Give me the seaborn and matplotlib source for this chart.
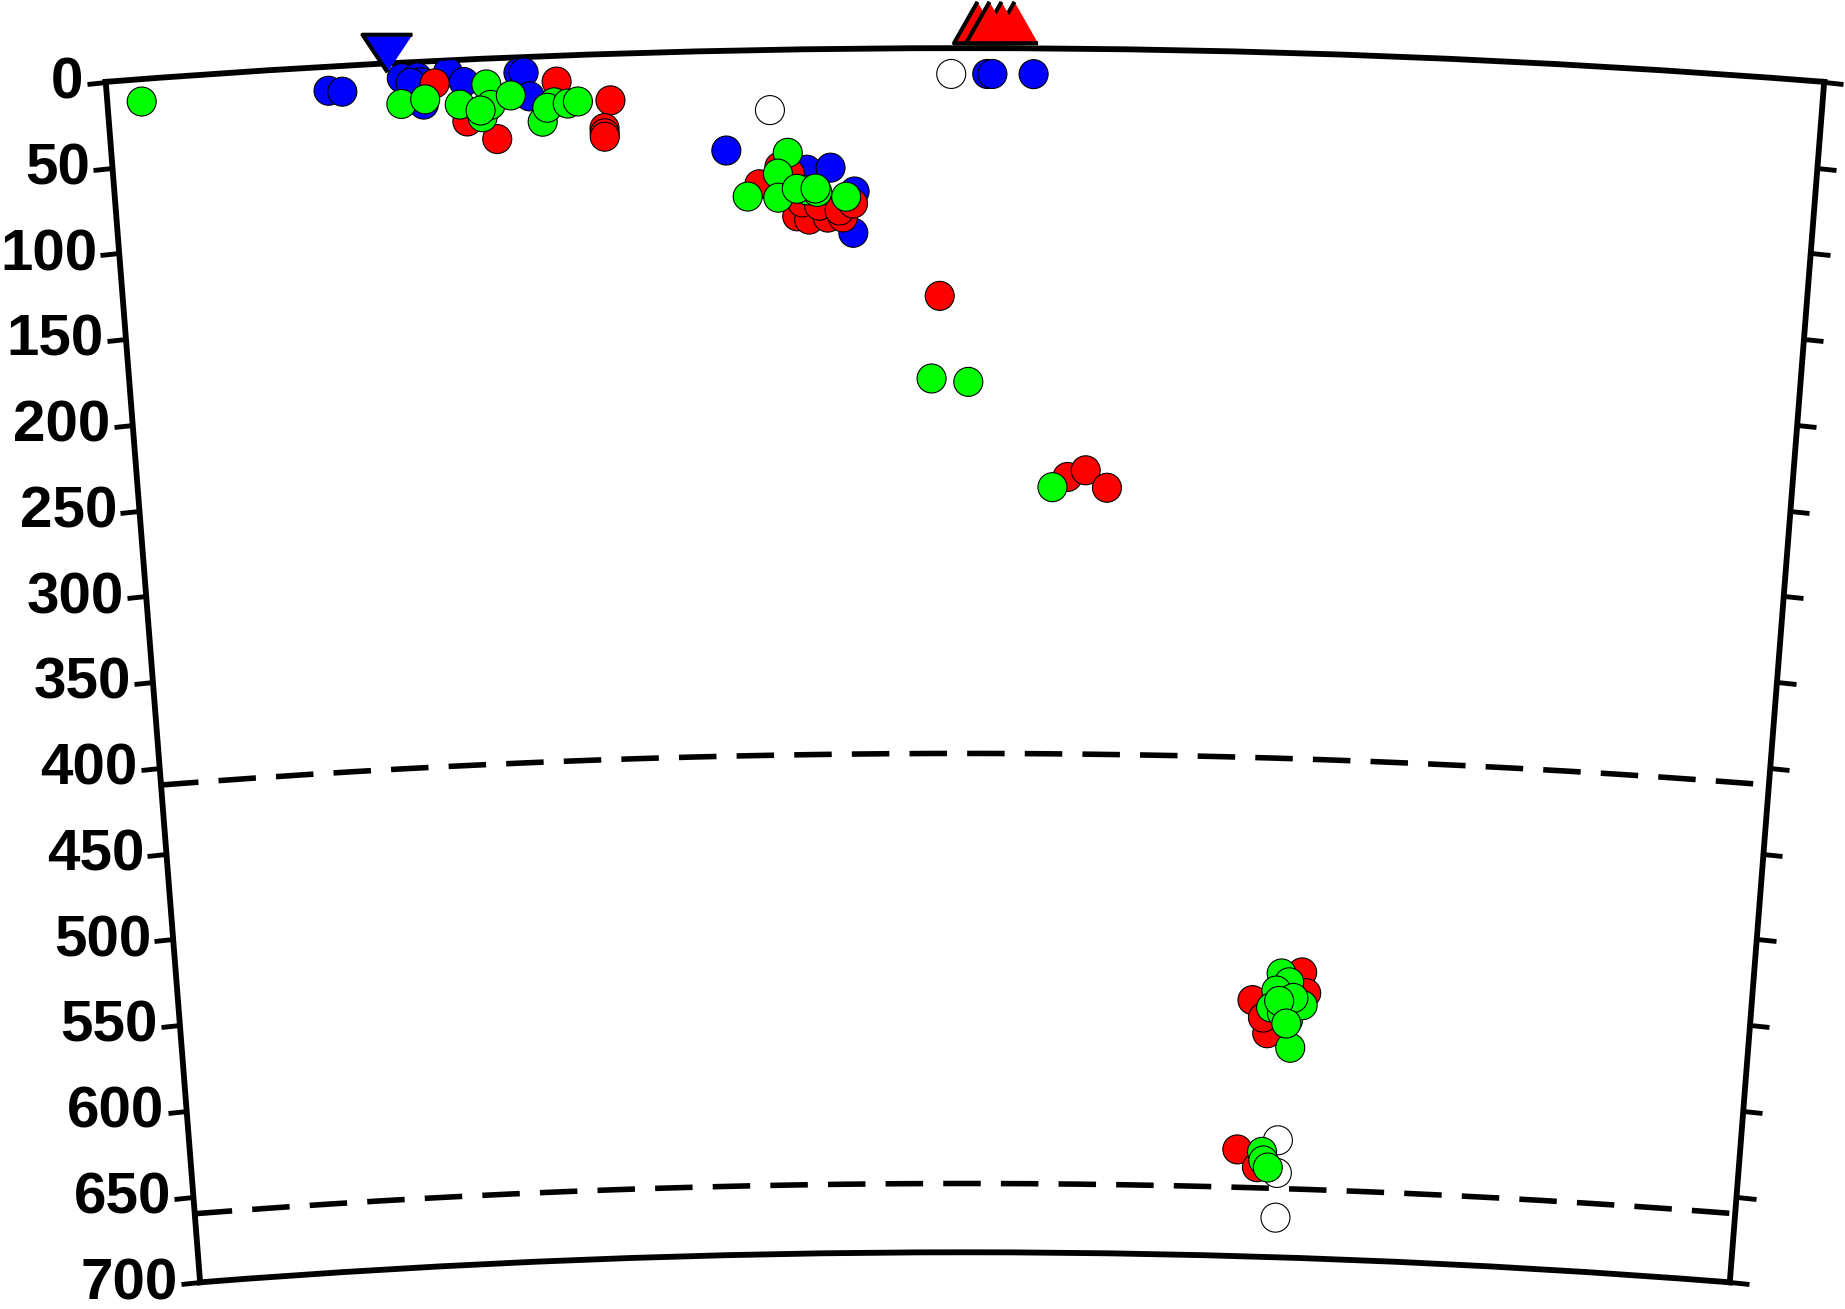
import numpy as np
import pandas as pd
import matplotlib
matplotlib.use("Agg")
from matplotlib import pyplot as plt
import seaborn as sns

R_EARTH = 6371.0
PROFILE_LEN = 1000.0      # km along the surface, left edge to right edge
MAX_DEPTH = 700

# hypocentres: distance along profile (km) and depth (km)
white_dist = [492, 386, 702, 702, 702]
white_depth = [15, 35, 632, 651, 677]

blue_dist = [129, 137, 172, 181, 183, 177, 199, 208, 240, 243, 246, 184,
             513, 516, 540, 360, 407, 421, 435, 434]
blue_depth = [14, 15, 9, 9, 12, 12, 7, 13, 9, 9, 23, 25,
              15, 15, 15, 58, 70, 69, 83, 107]

red_dist = [191, 262, 293, 209, 226, 289, 289, 289,
            379, 391, 397, 401, 408, 419, 428, 404, 414, 426, 434,
            485, 562, 573, 586, 714, 683, 693, 690, 717, 676, 689]
red_depth = [13, 15, 27, 36, 47, 43, 46, 48,
             78, 68, 72, 97, 99, 98, 98, 89, 91, 94, 90,
             144, 249, 245, 255, 534, 551, 570, 561, 546, 638, 648]

green_dist = [20, 171, 185, 221, 205, 218, 223, 235, 253, 260, 256, 268, 274, 217,
              396, 390, 372, 390, 407, 413, 430, 401, 412,
              480, 502, 553, 701, 706, 698, 695, 706, 715, 702, 709, 708, 700, 705,
              692, 693, 696]
green_depth = [13, 24, 22, 15, 26, 34, 27, 22, 38, 27, 30, 28, 27, 30,
               60, 72, 85, 86, 82, 83, 86, 81, 81,
               192, 194, 255, 535, 540, 545, 555, 562, 553, 558, 549, 578, 551, 564,
               639, 644, 648]

# volcanoes and trench, drawn above the surface
volcano_dist = [528.5, 521, 507, 514]
volcano_elev = [15, 15, 15, 15]
trench_dist = [164]
trench_elev = [6]

discont_depth = [410, 660]
depth_ticks = list(range(0, 701, 50))


def to_theta(d):
    return (np.asarray(d, dtype=float) - PROFILE_LEN / 2) / R_EARTH


rows = []
for name, dd, zz in [("white", white_dist, white_depth), ("blue", blue_dist, blue_depth),
                     ("red", red_dist, red_depth), ("green", green_dist, green_depth)]:
    for d, z in zip(dd, zz):
        rows.append((name, d, z))
df = pd.DataFrame(rows, columns=["group", "dist", "depth"])
df["theta"] = to_theta(df["dist"])
df["r"] = R_EARTH - df["depth"]

plt.rcParams["font.family"] = ["Liberation Sans", "DejaVu Sans"]
plt.rcParams["font.weight"] = "bold"
plt.rcParams["lines.scale_dashes"] = False

fig = plt.figure(figsize=(18.45, 13.09), dpi=100)
# square box; the wedge sits in its middle
ax = fig.add_axes([0.05729, -0.1646, 0.93144, 1.3128], projection="polar")

half = np.degrees(PROFILE_LEN / 2 / R_EARTH)
ax.set_theta_zero_location("N")
ax.set_theta_direction(-1)

sns.scatterplot(data=df, x="theta", y="r", hue="group",
                palette={"white": "white", "blue": "#0000ff", "red": "#ff0000", "green": "#00ff00"},
                s=436, edgecolor="black", linewidth=0.8, legend=False, ax=ax, zorder=3)

ax.scatter(to_theta(volcano_dist), R_EARTH + np.array(volcano_elev), s=1150, c="#ff0000",
           marker=[(0, 0.88), (-1, -0.88), (1, -0.88)], edgecolors="black", linewidths=2.9,
           clip_on=False, zorder=4)
ax.scatter(to_theta(trench_dist), R_EARTH + np.array(trench_elev), s=1300, c="#0000ff",
           marker=[(0, -0.75), (-1, 0.75), (1, 0.75)], edgecolors="black", linewidths=2.9,
           clip_on=False, zorder=4)

th = np.linspace(-np.radians(half), np.radians(half), 300)
for z in discont_depth:
    ax.plot(th, np.full_like(th, R_EARTH - z), color="black", lw=4, dashes=(27, 14.5), zorder=2)

ax.set_thetamin(-half)
ax.set_thetamax(half)
ax.set_rorigin(0)
ax.set_rlim(R_EARTH - MAX_DEPTH, R_EARTH)
ax.set_xticks([])
ax.set_yticks([R_EARTH - d for d in depth_ticks], labels=[str(d) for d in depth_ticks])
ax.tick_params(axis="y", length=14, width=3.5, pad=2, labelsize=42, labelrotation=0,
               left=True, right=True, labelleft=True, labelright=False)
ax.grid(False)
ax.set_xlabel("")
ax.set_ylabel("")
for sp in ax.spines.values():
    sp.set_linewidth(4.2)

fig.savefig("out.png", dpi=100)
